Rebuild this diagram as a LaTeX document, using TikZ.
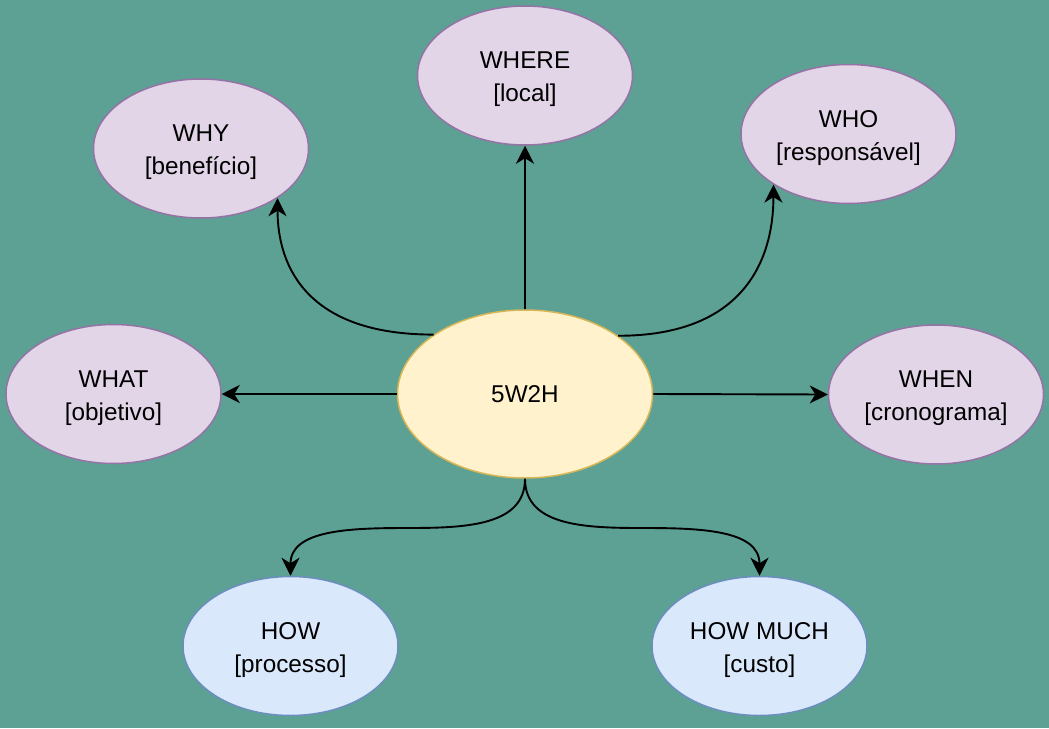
\documentclass[tikz,border=0pt]{standalone}
\usepackage{fontspec}
\setmainfont{Liberation Sans}
\usetikzlibrary{shapes.geometric,arrows.meta}
\definecolor{bgc}{HTML}{5DA094}
\definecolor{purpfill}{HTML}{E1D5E7}
\definecolor{purpdraw}{HTML}{9673A6}
\definecolor{yelfill}{HTML}{FFF2CC}
\definecolor{yeldraw}{HTML}{D6B656}
\definecolor{bluefill}{HTML}{DAE8FC}
\definecolor{bluedraw}{HTML}{6C8EBF}
\newcommand\myup{\rule{0pt}{24.5pt}}
\begin{document}
\begin{tikzpicture}[x=1pt,y=-1pt,
  ell/.style={ellipse,line width=1.5pt,minimum width=215pt,minimum height=139pt,
    inner sep=0pt,align=center,font=\fontsize{24.3}{33}\selectfont},
  purp/.style={ell,fill=purpfill,draw=purpdraw},
  blu/.style={ell,fill=bluefill,draw=bluedraw},
  yel/.style={ell,fill=yelfill,draw=yeldraw,minimum width=255pt,minimum height=168pt},
  conn/.style={line width=1.9pt,-{Stealth[length=18pt,width=18pt,inset=5.5pt]}}]
\fill[bgc] (0,0) rectangle (1049,728);
\node[yel] (c) at (525,394) {5W2H};
\node[purp] (where) at (525,75.5) {\myup WHERE\\{[local]}};
\node[purp] (why) at (201,148.5) {\myup WHY\\{[benefício]}};
\node[purp] (who) at (848.5,134) {\myup WHO\\{[responsável]}};
\node[purp] (what) at (113.5,394) {\myup WHAT\\{[objetivo]}};
\node[purp] (when) at (936,394.5) {\myup WHEN\\{[cronograma]}};
\node[blu] (how) at (290.5,646) {\myup HOW\\{[processo]}};
\node[blu] (howmuch) at (759.5,646) {\myup HOW MUCH\\{[custo]}};
\coordinate (m1) at (408,528);
\coordinate (m2) at (642,528);
\draw[conn] (c.north) -- (where.south);
\draw[conn] (c.west) -- (what.east);
\draw[conn] (c.east) -- (when.west);
\draw[conn] (c.147.3) .. controls +(-125,0) and +(0,70) .. (why.-33.3);
\draw[conn] (c.32.7) .. controls +(125,0) and +(0,76) .. (who.-146.8);
\draw[conn] (c.south) .. controls +(0,47) and +(58,0) .. (m1) .. controls +(-58,0) and +(0,-46) .. (how.north);
\draw[conn] (c.south) .. controls +(0,47) and +(-58,0) .. (m2) .. controls +(58,0) and +(0,-46) .. (howmuch.north);
\end{tikzpicture}
\end{document}
